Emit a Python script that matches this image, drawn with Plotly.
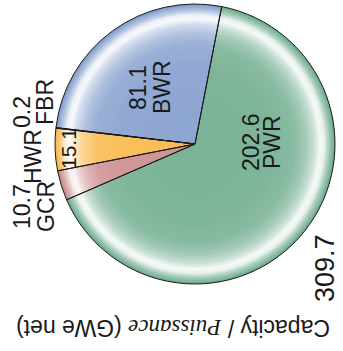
import plotly.graph_objects as go

# Reactor types and their net capacity (GWe), listed clockwise from the PWR slice
reactor_types = ["PWR", "GCR", "HWR", "FBR", "BWR"]
capacity_gwe = [202.6, 10.7, 15.1, 0.2, 81.1]
total_label = "309.7"

# Deep slice colours (rim), lightened toward white by the shading profile
deep_colors = ["#68a889", "#c98486", "#f8b43e", "#9aa0b8", "#7d99ca"]

W, H = 343, 351
CX, CY, R = 195, 144, 140  # pie centre and radius in pixels
START_ANGLE = 11  # degrees clockwise from 12 o'clock


def px_x(x):
    return x / W


def px_y(y):
    return 1 - y / H


def mix_white(hex_color, t):
    h = hex_color.lstrip("#")
    r, g, b = (int(h[i:i + 2], 16) for i in (0, 2, 4))
    r = round(r + (255 - r) * t)
    g = round(g + (255 - g) * t)
    b = round(b + (255 - b) * t)
    return f"rgb({r},{g},{b})"


# Radial shading: amount of white mixed in as a function of r/R
shade_stops = [(0.0, 0.12), (0.55, 0.15), (0.72, 0.22), (0.8, 0.4), (0.86, 0.65),
               (0.9, 0.93), (0.93, 0.85), (0.96, 0.45), (1.0, 0.06)]


def shade(f):
    for (f0, t0), (f1, t1) in zip(shade_stops, shade_stops[1:]):
        if f0 <= f <= f1:
            return t0 + (t1 - t0) * (f - f0) / (f1 - f0)
    return shade_stops[-1][1]


fig = go.Figure()

# Concentric discs, largest first, give the slices their radial shading
radius = R
while radius > 4:
    t = shade(radius / R)
    fig.add_trace(go.Pie(
        labels=reactor_types, values=capacity_gwe, sort=False,
        direction="clockwise", rotation=START_ANGLE,
        marker=dict(colors=[mix_white(c, t) for c in deep_colors],
                    line=dict(width=0)),
        textinfo="none", hoverinfo="skip", showlegend=False,
        domain=dict(x=[px_x(CX - radius), px_x(CX + radius)],
                    y=[px_y(CY + radius), px_y(CY - radius)]),
    ))
    radius -= 2

# Slice outlines on top
fig.add_trace(go.Pie(
    labels=reactor_types, values=capacity_gwe, sort=False,
    direction="clockwise", rotation=START_ANGLE,
    marker=dict(colors=["rgba(0,0,0,0)"] * len(reactor_types),
                line=dict(color="#1a1a1a", width=1)),
    textinfo="none", hoverinfo="skip", showlegend=False,
    domain=dict(x=[px_x(CX - R), px_x(CX + R)], y=[px_y(CY + R), px_y(CY - R)]),
))

val = dict(zip(reactor_types, capacity_gwe))
font = dict(family="Liberation Sans, Arial, sans-serif", color="#1a1a1a")


def label(text, x, y, size=23, angle=-90):
    fig.add_annotation(text=text, x=px_x(x), y=px_y(y), xref="paper", yref="paper",
                       showarrow=False, textangle=angle,
                       xanchor="center", yanchor="middle",
                       font=dict(size=size, **font))


# Slice labels, one annotation per line (rotated to read bottom-to-top)
label(f"{val['BWR']}", 138, 88)
label("BWR", 162, 87)
label(f"{val['PWR']}", 251, 142)
label("PWR", 272, 142)
label(f"{val['HWR']}", 68, 149, 21)
label("HWR", 33, 157)
label(f"{val['FBR']}", 22, 112)
label("FBR", 45, 102)
label(f"{val['GCR']}", 22, 207)
label("GCR", 46, 207)
label(total_label, 325, 268, 27)
label("Capacity / <span style='font-family:Liberation Serif'><i>Puissance</i></span> (GWe net)",
      173, 328, 23, angle=180)

fig.update_layout(width=W, height=H, margin=dict(l=0, r=0, t=0, b=0),
                  paper_bgcolor="white", plot_bgcolor="white")

fig.write_html("out.html")
